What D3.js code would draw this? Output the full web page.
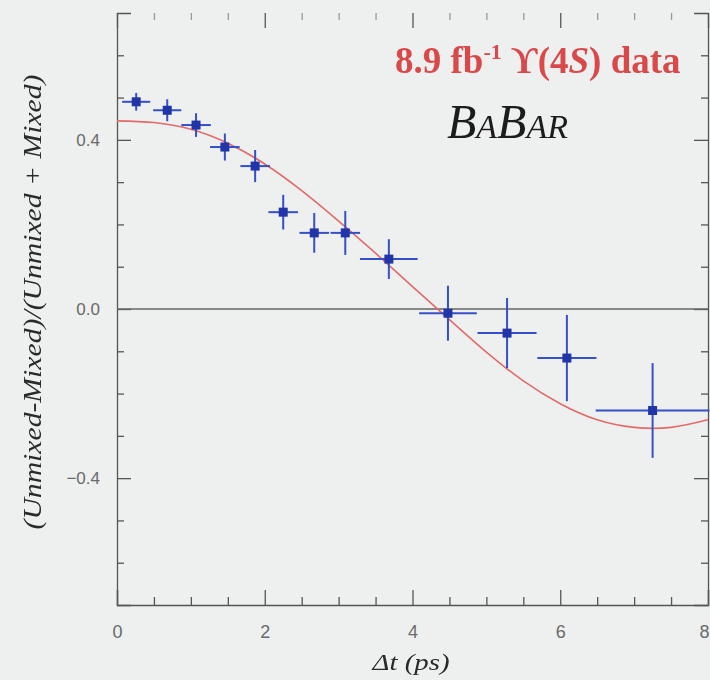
<!DOCTYPE html>
<html><head><meta charset="utf-8">
<script src="https://cdn.jsdelivr.net/npm/d3@7"></script>
<style>body{margin:0;background:#eef0ef;overflow:hidden}</style>
</head><body><svg id="c" width="710" height="680"></svg>
<script>
// data
const dtCenters=[0.26,0.68,1.07,1.46,1.87,2.25,2.67,3.09,3.68,4.48,5.28,6.09,7.25];
const dtHalfWidths=[0.19,0.19,0.2,0.2,0.2,0.2,0.2,0.2,0.39,0.39,0.4,0.4,0.77];
const asymmetry=[0.49,0.47,0.435,0.383,0.338,0.229,0.18,0.18,0.118,-0.01,-0.057,-0.116,-0.24];
const asymErr=[0.021,0.026,0.028,0.032,0.038,0.041,0.047,0.052,0.047,0.065,0.083,0.102,0.112];
const fitT=[0,0.5,1,1.5,2,2.5,3,3.5,4,4.5,5,5.5,6,6.5,7,7.5,8];
const fitY=[0.445,0.441,0.425,0.392,0.343,0.28,0.208,0.132,0.053,-0.025,-0.102,-0.17,-0.224,-0.262,-0.28,-0.28,-0.262];
const xMajor=[0,2,4,6,8];
const xMinor=[0.5,1,1.5,2.5,3,3.5,4.5,5,5.5,6.5,7,7.5];
const yMajor=[-0.4,0,0.4];
const yMinor=[-0.6,-0.5,-0.3,-0.2,-0.1,0.1,0.2,0.3,0.5,0.6];

const svg=d3.select("#c");
const x=d3.scaleLinear([0,8],[117,708]);
const y=d3.scaleLinear([-0.7,0.7],[605,13]);
const axCol="#555";

const defs=svg.append("defs");
defs.append("filter").attr("id","blur").append("feGaussianBlur").attr("stdDeviation",0.7);
defs.append("filter").attr("id","soft").append("feGaussianBlur").attr("stdDeviation",0.45);

svg.append("rect").attr("width",710).attr("height",680).attr("fill","#eef0ef");

function styleAxis(g){
  g.selectAll("path,line").attr("stroke",axCol).attr("stroke-width",1.3);
  g.selectAll("text").attr("fill","#6a6a6a").attr("font-family","Liberation Sans, Arial, sans-serif").attr("font-size",18);
}
// bottom
svg.append("g").attr("transform",`translate(0,${y(-0.7)})`)
  .call(d3.axisBottom(x).tickValues(xMajor).tickSize(-15).tickPadding(20).tickFormat(d3.format("d")))
  .call(styleAxis)
  .call(g=>g.selectAll(".tick text").filter(d=>d===8).attr("dx",-4));
svg.append("g").attr("transform",`translate(0,${y(-0.7)})`)
  .call(d3.axisBottom(x).tickValues(xMinor).tickSize(-8).tickFormat(""))
  .call(g=>g.select(".domain").remove()).call(styleAxis);
// top
svg.append("g").attr("transform",`translate(0,${y(0.7)})`)
  .call(d3.axisTop(x).tickValues(xMajor).tickSize(-15).tickFormat(""))
  .call(g=>g.select(".domain").remove()).call(styleAxis);
svg.append("g").attr("transform",`translate(0,${y(0.7)})`)
  .call(d3.axisTop(x).tickValues(xMinor).tickSize(-7).tickFormat(""))
  .call(g=>g.select(".domain").remove()).call(styleAxis)
  .selectAll("line").attr("stroke","#999");
// left
svg.append("g").attr("transform",`translate(${x(0)},0)`)
  .call(d3.axisLeft(y).tickValues(yMajor).tickSize(-14).tickPadding(17).tickFormat(d3.format(".1f")))
  .call(styleAxis).call(g=>g.selectAll("text").attr("font-size",17));
svg.append("g").attr("transform",`translate(${x(0)},0)`)
  .call(d3.axisLeft(y).tickValues(yMinor).tickSize(-7).tickFormat(""))
  .call(g=>g.select(".domain").remove()).call(styleAxis);
// right
svg.append("g").attr("transform",`translate(${x(8)},0)`)
  .call(d3.axisRight(y).tickValues(yMajor).tickSize(-14).tickFormat(""))
  .call(styleAxis);
svg.append("g").attr("transform",`translate(${x(8)},0)`)
  .call(d3.axisRight(y).tickValues(yMinor).tickSize(-7).tickFormat(""))
  .call(g=>g.select(".domain").remove()).call(styleAxis);

// zero line
svg.append("line").attr("x1",x(0)).attr("x2",x(8)).attr("y1",y(0)).attr("y2",y(0))
  .attr("stroke","#666").attr("stroke-width",1.4);

// fit curve
const fit=fitT.map((t,i)=>[t,fitY[i]]);
svg.append("path").datum(fit)
  .attr("d",d3.line().x(d=>x(d[0])).y(d=>y(d[1])).curve(d3.curveNatural))
  .attr("fill","none").attr("stroke","#e26a6a").attr("stroke-width",1.6);

// data points
const pts=dtCenters.map((t,i)=>({t,dt:dtHalfWidths[i],a:asymmetry[i],e:asymErr[i]}));
const pg=svg.append("g").attr("filter","url(#blur)");
const p=pg.selectAll("g.pt").data(pts).join("g");
p.append("line").attr("x1",d=>x(d.t-d.dt)).attr("x2",d=>x(d.t+d.dt)).attr("y1",d=>y(d.a)).attr("y2",d=>y(d.a))
  .attr("stroke","#3550c8").attr("stroke-width",2);
p.append("line").attr("x1",d=>x(d.t)).attr("x2",d=>x(d.t)).attr("y1",d=>y(d.a-d.e)).attr("y2",d=>y(d.a+d.e))
  .attr("stroke","#3550c8").attr("stroke-width",2);
p.append("rect").attr("x",d=>x(d.t)-4.5).attr("y",d=>y(d.a)-4.5).attr("width",9).attr("height",9)
  .attr("fill","#2336a8");

// labels
svg.append("text").attr("transform",`translate(41,302) rotate(-90)`)
  .attr("text-anchor","middle").attr("font-family","Liberation Serif, Times New Roman, serif")
  .attr("font-style","italic").attr("font-size",26).attr("fill","#2a2a2a")
  .attr("textLength",455).attr("lengthAdjust","spacingAndGlyphs").attr("filter","url(#soft)")
  .text("(Unmixed-Mixed)/(Unmixed + Mixed)");
svg.append("text").attr("x",411).attr("y",670).attr("text-anchor","middle")
  .attr("font-family","Liberation Serif, Times New Roman, serif").attr("font-style","italic")
  .attr("font-size",23).attr("fill","#2a2a2a").attr("textLength",77).attr("lengthAdjust","spacingAndGlyphs")
  .attr("filter","url(#soft)").text("Δt (ps)");

const t1=svg.append("text").attr("x",395).attr("y",73)
  .attr("font-family","Liberation Serif, Times New Roman, serif").attr("font-weight","bold")
  .attr("font-size",37).attr("fill","#d94a4a").attr("filter","url(#soft)");
t1.append("tspan").text("8.9 fb");
t1.append("tspan").attr("dy",-14).attr("font-size",22).text("-1");
t1.append("tspan").attr("dy",14).text("  ϒ(4");
t1.append("tspan").attr("font-style","italic").text("S");
t1.append("tspan").text(") data");

const t2=svg.append("text").attr("x",447).attr("y",138)
  .attr("font-family","Liberation Serif, Times New Roman, serif").attr("font-style","italic")
  .attr("fill","#1a1a1a").attr("filter","url(#soft)");
t2.append("tspan").attr("font-size",48).text("B");
t2.append("tspan").attr("font-size",34).text("A");
t2.append("tspan").attr("font-size",48).text("B");
t2.append("tspan").attr("font-size",34).text("AR");
</script></body></html>
